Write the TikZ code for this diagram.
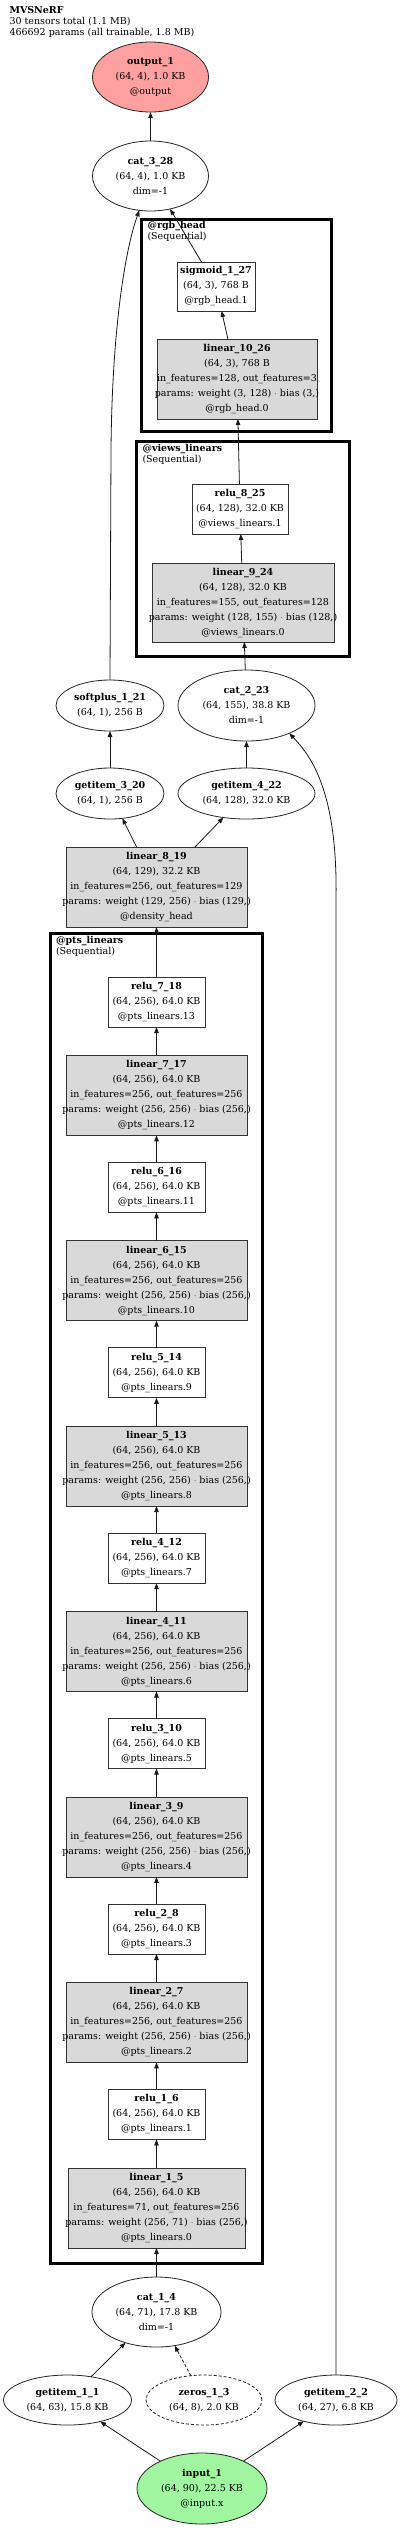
\documentclass[tikz,border=0pt]{standalone}
\usepackage{fontspec}
\setmainfont{DejaVu Serif}
\usetikzlibrary{shapes.geometric,arrows.meta}
\definecolor{outred}{HTML}{FFA0A0}
\definecolor{ingreen}{HTML}{A0F5A0}
\definecolor{opgray}{HTML}{D9D9D9}
\newcommand\zc[1]{\makebox[0pt][c]{#1}}
\begin{document}
\begin{tikzpicture}[x=1pt,y=-1pt,
  every node/.style={font=\fontsize{9.5}{15}\selectfont, inner sep=0pt, outer sep=0pt, align=center},
  ell/.style={ellipse, draw=black!85, line width=0.8pt},
  box/.style={rectangle, draw=black!80, line width=0.8pt, fill=white},
  opbox/.style={rectangle, draw=black!80, line width=0.8pt, fill=opgray},
  relubox/.style={box, minimum width=97, minimum height=50},
  linbox/.style={opbox, minimum width=181, minimum height=80},
  cluster/.style={draw=black, line width=3.2pt},
  clabel/.style={anchor=north west, align=left, font=\fontsize{9.5}{11}\selectfont},
  conn/.style={draw=black!90, line width=0.8pt, -{Triangle[length=6pt,width=4.5pt]}},
]
\fill[white] (0,0) rectangle (400,2528);
\useasboundingbox (0,0) rectangle (400,2528);

% title
\node[clabel] (title) at (9.5,6) {\textbf{MVSNeRF}\\30 tensors total (1.1 MB)\\466692 params (all trainable, 1.8 MB)};

% top part
\node[ell, fill=outred, minimum width=116, minimum height=70] (out1) at (150.5,77)
  {\zc{\textbf{output\_1}}\\\zc{(64, 4), 1.0 KB}\\\zc{@output}};
\node[ell, fill=white, minimum width=116, minimum height=70] (cat328) at (150.5,176)
  {\zc{\textbf{cat\_3\_28}}\\\zc{(64, 4), 1.0 KB}\\\zc{dim=-1}};
\node[box, minimum width=78, minimum height=49] (sig127) at (216,286.5)
  {\zc{\textbf{sigmoid\_1\_27}}\\\zc{(64, 3), 768 B}\\\zc{@rgb\_head.1}};
\node[opbox, minimum width=160, minimum height=80] (lin1026) at (237,379)
  {\zc{\textbf{linear\_10\_26}}\\\zc{(64, 3), 768 B}\\\zc{in\_features=128, out\_features=3}\\\zc{params: weight (3, 128) $\cdot$ bias (3,)}\\\zc{@rgb\_head.0}};
\node[box, minimum width=96, minimum height=50] (relu825) at (240,509)
  {\zc{\textbf{relu\_8\_25}}\\\zc{(64, 128), 32.0 KB}\\\zc{@views\_linears.1}};
\node[opbox, minimum width=182, minimum height=79] (lin924) at (243,602.5)
  {\zc{\textbf{linear\_9\_24}}\\\zc{(64, 128), 32.0 KB}\\\zc{in\_features=155, out\_features=128}\\\zc{params: weight (128, 155) $\cdot$ bias (128,)}\\\zc{@views\_linears.0}};
\node[ell, fill=white, minimum width=137, minimum height=71] (cat223) at (246.5,705.5)
  {\zc{\textbf{cat\_2\_23}}\\\zc{(64, 155), 38.8 KB}\\\zc{dim=-1}};
\node[ell, fill=white, minimum width=108, minimum height=51] (sp121) at (110,705.5)
  {\zc{\textbf{softplus\_1\_21}}\\\zc{(64, 1), 256 B}};
\node[ell, fill=white, minimum width=108, minimum height=51] (gi320) at (110,793.5)
  {\zc{\textbf{getitem\_3\_20}}\\\zc{(64, 1), 256 B}};
\node[ell, fill=white, minimum width=137, minimum height=51] (gi422) at (246.5,793.5)
  {\zc{\textbf{getitem\_4\_22}}\\\zc{(64, 128), 32.0 KB}};
\node[linbox] (lin819) at (156.5,887)
  {\zc{\textbf{linear\_8\_19}}\\\zc{(64, 129), 32.2 KB}\\\zc{in\_features=256, out\_features=129}\\\zc{params: weight (129, 256) $\cdot$ bias (129,)}\\\zc{@density\_head}};

% pts_linears stack
\foreach \k in {1,...,7} {
  \pgfmathsetmacro\ry{977+(7-\k)*185.4+25}
  \pgfmathtruncatemacro\rid{2*\k+4}
  \pgfmathtruncatemacro\ri{2*\k-1}
  \node[relubox] (relu\k) at (156.5,\ry)
    {\zc{\textbf{relu\_\k\_\rid}}\\\zc{(64, 256), 64.0 KB}\\\zc{@pts\_linears.\ri}};
}
\foreach \k in {2,...,7} {
  \pgfmathsetmacro\ly{977+(7-\k)*185.4+118.3}
  \pgfmathtruncatemacro\lid{2*\k+3}
  \pgfmathtruncatemacro\li{2*\k-2}
  \node[linbox] (lin\k) at (156.5,\ly)
    {\zc{\textbf{linear\_\k\_\lid}}\\\zc{(64, 256), 64.0 KB}\\\zc{in\_features=256, out\_features=256}\\\zc{params: weight (256, 256) $\cdot$ bias (256,)}\\\zc{@pts\_linears.\li}};
}
\node[opbox, minimum width=177, minimum height=80] (lin1) at (156.5,2208)
  {\zc{\textbf{linear\_1\_5}}\\\zc{(64, 256), 64.0 KB}\\\zc{in\_features=71, out\_features=256}\\\zc{params: weight (256, 71) $\cdot$ bias (256,)}\\\zc{@pts\_linears.0}};

% bottom part
\node[ell, fill=white, minimum width=129, minimum height=70] (cat14) at (156.5,2312)
  {\zc{\textbf{cat\_1\_4}}\\\zc{(64, 71), 17.8 KB}\\\zc{dim=-1}};
\node[ell, fill=white, minimum width=128, minimum height=50] (gi11) at (67.5,2400)
  {\zc{\textbf{getitem\_1\_1}}\\\zc{(64, 63), 15.8 KB}};
\node[ell, fill=white, dash pattern=on 3pt off 2pt, minimum width=116, minimum height=50] (zeros13) at (204,2400)
  {\zc{\textbf{zeros\_1\_3}}\\\zc{(64, 8), 2.0 KB}};
\node[ell, fill=white, minimum width=122, minimum height=50] (gi22) at (336,2400)
  {\zc{\textbf{getitem\_2\_2}}\\\zc{(64, 27), 6.8 KB}};
\node[ell, fill=ingreen, minimum width=130, minimum height=71] (in1) at (202,2488.5)
  {\zc{\textbf{input\_1}}\\\zc{(64, 90), 22.5 KB}\\\zc{@input.x}};

% clusters
\draw[cluster] (141.6,219.6) rectangle (331.4,431.4);
\node[clabel] (rgbl) at (147.5,221) {\textbf{@rgb\_head}\\(Sequential)};
\draw[cluster] (136.6,441.6) rectangle (349.4,656.4);
\node[clabel] (viewsl) at (142.5,444) {\textbf{@views\_linears}\\(Sequential)};
\draw[cluster] (50.6,933.6) rectangle (262.4,2263.4);
\node[clabel] (ptsl) at (56,936) {\textbf{@pts\_linears}\\(Sequential)};

% connectors
\draw[conn] (in1) -- (gi11);
\draw[conn] (in1) -- (gi22);
\draw[conn] (gi11) -- (cat14);
\draw[conn, dash pattern=on 3pt off 2pt] (zeros13) -- (cat14);
\draw[conn] (cat14) -- (lin1);
\draw[conn] (lin1) -- (relu1);
\foreach \k [evaluate=\k as \p using int(\k-1)] in {2,...,7} {
  \draw[conn] (relu\p) -- (lin\k);
  \draw[conn] (lin\k) -- (relu\k);
}
\draw[conn] (relu7) -- (lin819);
\draw[conn] (lin819) -- (gi320);
\draw[conn] (lin819) -- (gi422);
\draw[conn] (gi320) -- (sp121);
\draw[conn] (gi422) -- (cat223);
\draw[conn] (cat223) -- (lin924);
\draw[conn] (lin924) -- (relu825);
\draw[conn] (relu825) -- (lin1026);
\draw[conn] (lin1026) -- (sig127);
\draw[conn] (sig127) -- (cat328);
\draw[conn] (cat328) -- (out1);
\draw[conn] (sp121.north) -- (111,450) .. controls (112,330) and (125,250) .. (cat328.252);
\draw[conn] (gi22.north) -- (336,900) .. controls (338,790) and (310,755) .. (cat223.327);
\end{tikzpicture}
\end{document}
